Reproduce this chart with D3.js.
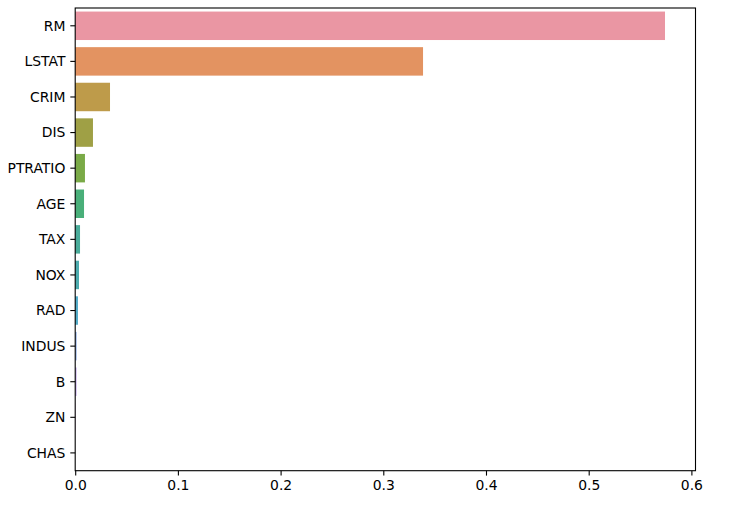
<!DOCTYPE html>
<html><head><meta charset="utf-8">
<script src="https://cdn.jsdelivr.net/npm/d3@7"></script>
<style>body{margin:0;background:#fff}svg{display:block}text{font-family:"DejaVu Sans",sans-serif;font-size:13.9px;fill:#000}</style>
</head><body><svg id="c" width="732" height="505"></svg>
<script>
const features = ["RM","LSTAT","CRIM","DIS","PTRATIO","AGE","TAX","NOX","RAD","INDUS","B","ZN","CHAS"];
const importances = [0.5743,0.3387,0.0339,0.0173,0.0095,0.0086,0.0047,0.0037,0.0027,0.0014,0.0013,0.0002,0.0];
const xTicks = [0,0.1,0.2,0.3,0.4,0.5,0.6];
const xTickLabels = ["0.0","0.1","0.2","0.3","0.4","0.5","0.6"];

// seaborn husl palette (l=.7) desaturated by .75
function huslToRgb(H,S,L){
  const m=[[3.2406,-1.5372,-0.4986],[-0.9689,1.8758,0.0415],[0.0557,-0.2040,1.0570]];
  const refU=0.19784,refV=0.46834,kappa=903.2963,eps=0.0088564,refY=1.0;
  function maxChroma(L,H){
    const hr=H/360*2*Math.PI,sinH=Math.sin(hr),cosH=Math.cos(hr);
    const sub1=Math.pow(L+16,3)/1560896;const sub2=sub1>eps?sub1:L/kappa;
    let res=Infinity;
    for(const [m1,m2,m3] of m){
      const top=(0.99915*m1+1.05122*m2+1.14460*m3)*sub2;
      const rb=0.86330*m3-0.17266*m2, lb=0.12949*m3-0.38848*m1;
      const bottom=(rb*sinH+lb*cosH)*sub2;
      for(const t of [0,1]){const C=L*(top-1.05122*t)/(bottom+0.17266*sinH*t); if(C>0&&C<res)res=C;}
    }
    return res;
  }
  const C=maxChroma(L,H)/100*S;
  const hr=H/360*2*Math.PI;const U=C*Math.cos(hr),V=C*Math.sin(hr);
  const varY=L>8?refY*Math.pow((L+16)/116,3):refY*L/kappa;
  const varU=U/(13*L)+refU,varV=V/(13*L)+refV;
  const Y=varY*refY;const X=-(9*Y*varU)/((varU-4)*varV-varU*varV);
  const Z=(9*Y-15*varV*Y-varV*X)/(3*varV);
  return m.map(r=>{let c=r[0]*X+r[1]*Y+r[2]*Z;c=c<=0.0031308?12.92*c:1.055*Math.pow(c,1/2.4)-0.055;return Math.max(0,Math.min(1,c));});
}
const n=features.length;
const colors=d3.range(n).map(i=>{
  let h=((i/n)+0.01)%1*359;
  const rgb=huslToRgb(h,0.9*99,0.7*99);
  const c=d3.hsl(d3.rgb(rgb[0]*255,rgb[1]*255,rgb[2]*255));
  c.s*=0.75;
  return c.formatHex();
});

const svg=d3.select("#c");
const L=75.2,R=695.5,T=8,B=470.7;
const x=d3.scaleLinear().domain([0,0.604]).range([L,R]);
const y=d3.scaleBand().domain(features).range([T,B]).paddingInner(0.2).paddingOuter(0.1);
// fix band: matplotlib uses band=1 per category, bar width .8
const step=(B-T)/n;
const yc=f=>T+step*(features.indexOf(f)+0.5);

svg.append("g").selectAll("rect").data(features).join("rect")
  .attr("x",x(0)).attr("y",f=>yc(f)-step*0.4)
  .attr("width",(f,i)=>x(importances[i])-x(0)).attr("height",step*0.8)
  .attr("fill",(f,i)=>colors[i]);

const xa=d3.axisBottom(x).tickValues(xTicks).tickFormat((d,i)=>xTickLabels[i]).tickSize(4.9).tickPadding(4.9);
const gx=svg.append("g").attr("transform",`translate(0,${B})`).call(xa);
gx.select(".domain").remove();
gx.selectAll("line").attr("stroke","#000").attr("stroke-width",1.1);
gx.selectAll("text").style("font-size","13.9px").style("font-family","DejaVu Sans").attr("fill","#000");

const ya=d3.scaleOrdinal().domain(features).range(features.map(yc));
const gy=svg.append("g");
features.forEach(f=>{
  gy.append("line").attr("x1",L-4.9).attr("x2",L).attr("y1",yc(f)).attr("y2",yc(f)).attr("stroke","#000").attr("stroke-width",1.1);
  gy.append("text").attr("x",L-4.9-4.9).attr("y",yc(f)).attr("dy","0.35em").attr("text-anchor","end").text(f);
});

svg.append("rect").attr("x",L).attr("y",T).attr("width",R-L).attr("height",B-T)
  .attr("fill","none").attr("stroke","#000").attr("stroke-width",1.1);
</script></body></html>
